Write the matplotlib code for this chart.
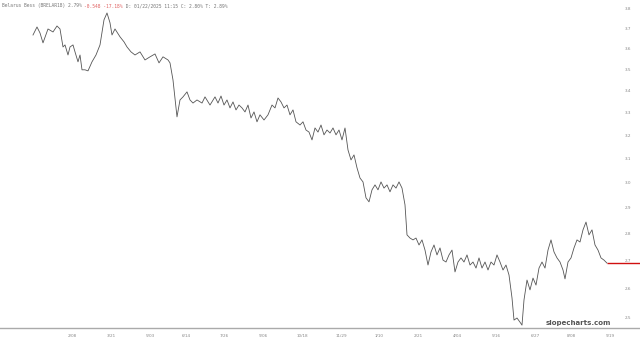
import matplotlib
matplotlib.use("Agg")
import matplotlib.pyplot as plt
import matplotlib.transforms as mtransforms

# ---- data ----
days = [33, 37, 40, 43, 48, 53, 57, 60, 63, 65, 68, 70, 73, 75, 78, 80, 82, 85, 88, 92,
        96, 100, 104, 107, 110, 112, 115, 120, 124, 127, 131, 135, 140, 145, 150, 155, 159, 163, 168, 170,
        173, 177, 180, 183, 187, 190, 193, 197, 202, 205, 210, 215, 218, 221, 224, 227, 230, 233, 236, 239,
        242, 245, 248, 251, 254, 257, 260, 264, 268, 272, 275, 278, 281, 284, 287, 290, 293, 296, 300, 303,
        306, 309, 312, 315, 318, 321, 324, 327, 330, 333, 336, 339, 342, 345, 348, 351, 354, 357, 360, 363,
        366, 369, 372, 375, 378, 381, 384, 387, 390, 393, 396, 399, 402, 405, 407, 410, 413, 416, 419, 422,
        425, 428, 431, 434, 437, 440, 443, 446, 449, 452, 455, 458, 461, 464, 467, 470, 473, 476, 479, 482,
        485, 488, 491, 494, 497, 500, 503, 506, 509, 512, 514, 517, 520, 522, 524, 527, 530, 533, 536, 539,
        542, 545, 548, 551, 554, 557, 560, 563, 565, 568, 571, 574, 577, 580, 583, 586, 589, 592, 595, 598,
        601, 604, 607]
values = [3.668, 3.708, 3.678, 3.629, 3.698, 3.683, 3.713, 3.698, 3.609, 3.619, 3.570, 3.609, 3.619, 3.585, 3.537, 3.570, 3.499, 3.499, 3.494, 3.537,
          3.570, 3.619, 3.744, 3.779, 3.729, 3.668, 3.698, 3.659, 3.634, 3.609, 3.585, 3.570, 3.585, 3.546, 3.561, 3.575, 3.532, 3.561, 3.546, 3.532,
          3.451, 3.283, 3.359, 3.373, 3.396, 3.359, 3.345, 3.359, 3.345, 3.373, 3.336, 3.373, 3.345, 3.377, 3.336, 3.359, 3.323, 3.350, 3.314, 3.336,
          3.323, 3.305, 3.336, 3.278, 3.305, 3.261, 3.292, 3.269, 3.292, 3.336, 3.323, 3.368, 3.350, 3.323, 3.336, 3.292, 3.314, 3.261, 3.247, 3.261,
          3.225, 3.216, 3.182, 3.234, 3.216, 3.247, 3.204, 3.225, 3.212, 3.234, 3.204, 3.225, 3.182, 3.234, 3.139, 3.097, 3.118, 3.064, 3.022, 3.006,
          2.942, 2.926, 2.974, 2.994, 2.974, 3.006, 2.981, 2.994, 2.966, 2.994, 2.981, 3.006, 2.981, 2.914, 2.798, 2.786, 2.779, 2.786, 2.760, 2.779,
          2.741, 2.686, 2.734, 2.760, 2.723, 2.749, 2.704, 2.697, 2.723, 2.741, 2.661, 2.697, 2.712, 2.697, 2.723, 2.686, 2.697, 2.675, 2.712, 2.675,
          2.697, 2.668, 2.697, 2.686, 2.723, 2.697, 2.668, 2.686, 2.650, 2.569, 2.493, 2.500, 2.486, 2.476, 2.562, 2.632, 2.597, 2.639, 2.614, 2.675,
          2.697, 2.675, 2.741, 2.779, 2.734, 2.712, 2.697, 2.668, 2.636, 2.697, 2.712, 2.749, 2.779, 2.771, 2.817, 2.847, 2.798, 2.817, 2.760, 2.741,
          2.712, 2.704, 2.693]

y_ticks = [2.5, 2.6, 2.7, 2.8, 2.9, 3.0, 3.1, 3.2, 3.3, 3.4, 3.5, 3.6, 3.7, 3.8]
x_tick_pos = [72, 111, 150, 186, 224, 263, 302, 341, 379, 418, 457, 496, 535, 571, 610]
x_tick_labels = ["2/08", "3/21", "5/03", "6/14", "7/26", "9/06", "10/18", "11/29",
                 "1/10", "2/21", "4/04", "5/16", "6/27", "8/08", "9/19"]

title_parts = [("Belarus Bess (BRELAR18) 2.79% ", "#777777"),
               ("-0.548 -17.18%", "#e06060"),
               (" D: 01/22/2025 11:15 C: 2.80% T: 2.89%", "#777777")]

# ---- figure ----
fig = plt.figure(figsize=(6.4, 3.41), dpi=100)
ax = fig.add_axes([0, 13 / 341, 1, 328 / 341])
ax.set_yscale("log")
ax.set_xlim(0, 640)
ax.set_ylim(2.4664, 3.846)

ax.plot(days, values, color="#555555", lw=0.6)
ax.hlines(values[-1], days[-1], 640, color="#d01010", lw=1.0)

for s in ["top", "right", "left"]:
    ax.spines[s].set_visible(False)
ax.spines["bottom"].set_color("#aaaaaa")
ax.spines["bottom"].set_linewidth(1.0)
ax.set_yticks([])
ax.minorticks_off()
ax.set_yticks([], minor=True)
ax.set_xticks(x_tick_pos)
ax.set_xticklabels(x_tick_labels, fontsize=3, color="#888888")
ax.tick_params(axis="x", length=0, pad=4)

trans = mtransforms.blended_transform_factory(ax.transAxes, ax.transData)
for v in y_ticks:
    ax.text(628 / 640, v, f"{v:.1f}", transform=trans, fontsize=3, color="#888888",
            ha="center", va="center")

# title, drawn piece by piece
fig.canvas.draw()
r = fig.canvas.get_renderer()
xpos = 2.0
for txt, col in title_parts:
    tt = fig.text(xpos / fig.bbox.width, 1 - 6 / 341, txt, fontsize=3.3,
                  family="DejaVu Sans Mono", color=col, va="center", ha="left")
    xpos = tt.get_window_extent(r).x1

fig.text(578 / 640, 1 - 323 / 341, "slopecharts.com", fontsize=5, color="#555555",
         ha="center", va="center", fontweight="bold")

fig.savefig("out.png", dpi=100, facecolor="white")
